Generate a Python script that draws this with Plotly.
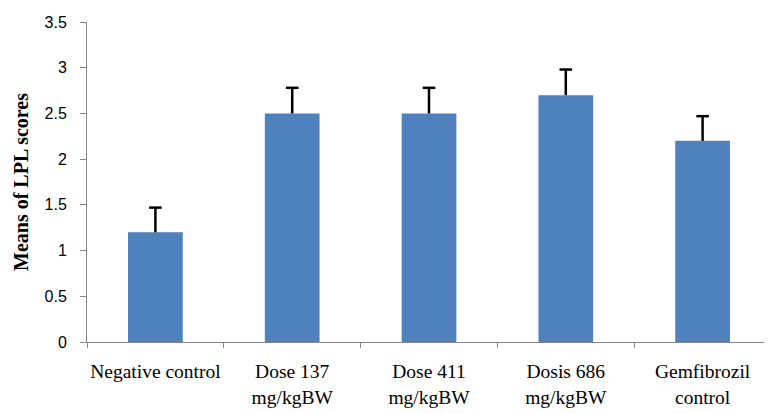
import plotly.graph_objects as go

categories = ["Negative control", "Dose 137<br>mg/kgBW", "Dose 411<br>mg/kgBW",
              "Dosis 686<br>mg/kgBW", "Gemfibrozil<br>control"]
means = [1.2, 2.5, 2.5, 2.7, 2.2]
errors = [0.27, 0.28, 0.28, 0.28, 0.27]
y_ticks = [0, 0.5, 1, 1.5, 2, 2.5, 3, 3.5]
y_tick_labels = ["0", "0.5", "1", "1.5", "2", "2.5", "3", "3.5"]

fig = go.Figure()
fig.add_trace(go.Bar(x=categories, y=means, marker=dict(color="#4F81BD", line=dict(width=0)),
                     hoverinfo="skip"))

# error bars: upward stems and caps
stem_x, stem_y = [], []
for c, m, e in zip(categories, means, errors):
    stem_x += [c, c, None]
    stem_y += [m, m + e, None]
fig.add_trace(go.Scatter(x=stem_x, y=stem_y, mode="lines",
                         line=dict(color="#000000", width=2.5), hoverinfo="skip"))
fig.add_trace(go.Scatter(x=categories, y=[m + e for m, e in zip(means, errors)], mode="markers",
                         marker=dict(symbol="line-ew", size=9, line=dict(color="#000000", width=2.5)),
                         hoverinfo="skip"))

fig.update_layout(
    width=764, height=406,
    margin=dict(l=79, r=1, t=14, b=72, autoexpand=False),
    paper_bgcolor="white", plot_bgcolor="white",
    showlegend=False, bargap=0.6,
    xaxis=dict(showline=True, linecolor="#868686", linewidth=1,
               ticks="outside", ticklen=5, tickcolor="#868686", tickson="boundaries",
               tickfont=dict(family="Liberation Serif", size=19.5, color="#000000"),
               ticklabelstandoff=12, showgrid=False, zeroline=False, tickangle=0,
               automargin=False),
    yaxis=dict(range=[0, 3.5], tickvals=y_ticks, ticktext=y_tick_labels,
               showline=True, linecolor="#868686", linewidth=1,
               ticks="outside", ticklen=6, tickcolor="#868686",
               tickfont=dict(family="Liberation Sans", size=16, color="#000000"),
               ticklabelstandoff=10, showgrid=False, zeroline=False, automargin=False,
               title=dict(text="<b>Means of LPL scores</b>", standoff=10,
                          font=dict(family="Liberation Serif", size=20, color="#000000"))),
)

fig.write_html("out.html")
